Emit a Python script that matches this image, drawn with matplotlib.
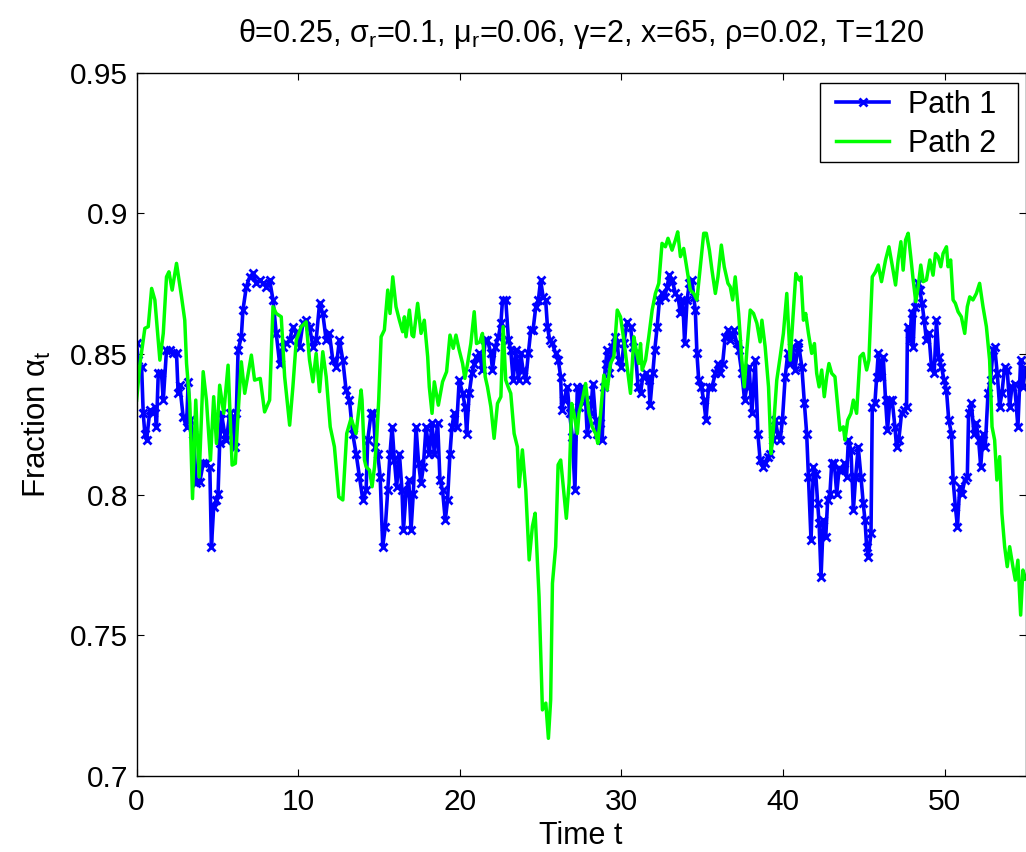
import matplotlib
matplotlib.use("Agg")
import matplotlib.pyplot as plt
from matplotlib.patches import Rectangle

plt.rcParams['font.family'] = ['Liberation Sans', 'DejaVu Sans']
plt.rcParams['mathtext.fontset'] = 'custom'
plt.rcParams['mathtext.rm'] = 'Liberation Sans'
plt.rcParams['mathtext.it'] = 'Liberation Sans:italic'

title_text = (r"θ=0.25, σ$_{\mathrm{r}}$=0.1, μ$_{\mathrm{r}}$=0.06, γ=2, "
              r"x=65, ρ=0.02, T=120")
xlabel_text = "Time t"
ylabel_text = r"Fraction α$_{\mathrm{t}}$"
legend_labels = ["Path 1", "Path 2"]
xticks = [0, 10, 20, 30, 40, 50]
yticks = [0.7, 0.75, 0.8, 0.85, 0.9, 0.95]
ytick_labels = ["0.7", "0.75", "0.8", "0.85", "0.9", "0.95"]

# Path 1 (blue, x markers)
t1 = [0.00, 0.10, 0.31, 0.41, 0.51, 0.62, 0.82, 1.03, 1.13, 1.23, 1.34, 1.54, 1.65, 1.85, 2.06,
      2.26, 2.47, 2.57, 2.67, 2.88, 3.09, 3.19, 3.29, 3.50, 3.70, 3.91, 4.12, 4.32, 4.53, 4.63,
      4.77, 4.94, 5.04, 5.14, 5.25, 5.45, 5.56, 5.76, 5.97, 6.07, 6.17, 6.28, 6.48, 6.58, 6.79,
      7.00, 7.20, 7.41, 7.61, 7.82, 8.02, 8.23, 8.44, 8.64, 8.85, 9.05, 9.26, 9.47, 9.67, 9.88,
      10.08, 10.29, 10.49, 10.70, 10.91, 11.11, 11.32, 11.52, 11.73, 11.93, 12.14, 12.35, 12.55,
      12.76, 12.96, 13.17, 13.37, 13.58,
      13.79, 14.00, 14.20, 14.30, 14.51, 14.65, 14.78, 14.92, 15.07, 15.23, 15.39, 15.54, 15.68,
      15.81, 15.95, 16.09, 16.26, 16.42, 16.51, 16.67, 16.84, 16.98, 17.12, 17.29, 17.45, 17.60,
      17.74, 17.91, 18.11, 18.28, 18.42, 18.63, 18.77, 18.93, 19.10, 19.24, 19.39, 19.51, 19.65,
      19.80, 19.96, 20.17, 20.33, 20.42, 20.58, 20.75, 20.89, 21.03, 21.20, 21.40, 21.57, 21.71,
      21.92, 22.02, 22.19, 22.39, 22.54, 22.64, 22.84, 23.01, 23.15, 23.30, 23.46, 23.63, 23.77,
      23.91, 24.08, 24.24, 24.39, 24.53, 24.70, 24.86, 25.00, 25.15, 25.31, 25.42, 25.56, 25.72,
      25.93, 26.09, 26.24, 26.30, 26.44, 26.65, 26.79, 26.96, 27.12, 27.27,
      27.37, 27.58, 27.78, 27.88, 28.09, 28.23, 28.40, 28.50, 28.65, 28.81, 28.91, 29.02, 29.12,
      29.26, 29.43, 29.59, 29.74, 29.84, 30.00, 30.15, 30.35, 30.56, 30.70, 30.87, 31.03, 31.18,
      31.32, 31.49, 31.69, 31.77, 31.94, 32.06, 32.21, 32.35, 32.51, 32.68, 32.82, 32.97, 33.13,
      33.34, 33.50, 33.65, 33.79, 33.91, 34.06, 34.20, 34.37, 34.47, 34.57, 34.67, 34.78, 34.94,
      35.09, 35.23, 35.39, 35.60, 35.81, 35.97, 36.11, 36.26, 36.42, 36.59, 36.73, 36.94, 37.14,
      37.25, 37.45, 37.62, 37.76, 37.90, 38.07, 38.28, 38.44, 38.58, 38.73, 38.89, 39.06, 39.20,
      39.35, 39.51, 39.67, 39.82, 39.96, 40.13, 40.29, 40.44, 40.58, 40.74, 40.91,
      40.95, 41.16, 41.32, 41.46, 41.57, 41.73, 41.88, 42.02, 42.14, 42.23, 42.35, 42.49, 42.64,
      42.76, 42.90, 43.01, 43.17, 43.32, 43.46, 43.62, 43.79, 43.93, 44.04, 44.20, 44.35, 44.49,
      44.65, 44.82, 44.96, 45.07, 45.17, 45.27, 45.44, 45.52, 45.68, 45.79, 45.89, 46.05, 46.20,
      46.34, 46.46, 46.61, 46.75, 46.92, 47.02, 47.16, 47.33, 47.49, 47.64, 47.70, 47.84, 47.95,
      48.05, 48.15, 48.32, 48.46, 48.60, 48.73, 48.87, 49.02, 49.18, 49.35, 49.49, 49.63, 49.80,
      49.96, 50.11, 50.25, 50.42, 50.52, 50.66, 50.79, 50.93, 51.07, 51.24, 51.40, 51.48, 51.65,
      51.81, 51.96, 52.10, 52.23, 52.37, 52.51, 52.68, 52.84, 52.99, 53.09, 53.25, 53.40, 53.54,
      53.71, 53.87, 54.02, 54.16, 54.32, 54.53, 54.70, 54.84, 55.00]
alpha1 = [0.8538, 0.8478, 0.8455, 0.8289, 0.8217, 0.8194, 0.8300, 0.8289, 0.8312, 0.8241, 0.8431,
          0.8431, 0.8336, 0.8514, 0.8514, 0.8502, 0.8502, 0.8360, 0.8389, 0.8277, 0.8241, 0.8401,
          0.8265, 0.8217, 0.8040, 0.8046, 0.8111, 0.8111, 0.8099, 0.7815, 0.7957, 0.7981, 0.8004,
          0.8182, 0.8289, 0.8217, 0.8194, 0.8289, 0.8265, 0.8170, 0.8289, 0.8514, 0.8561, 0.8656,
          0.8739, 0.8774, 0.8786, 0.8751, 0.8763, 0.8751, 0.8739, 0.8763, 0.8692, 0.8573, 0.8466,
          0.8526, 0.8538, 0.8549, 0.8597, 0.8573, 0.8526, 0.8609, 0.8620, 0.8597, 0.8526, 0.8549,
          0.8680, 0.8644, 0.8549, 0.8573, 0.8478, 0.8455, 0.8549, 0.8478, 0.8372, 0.8336, 0.8217,
          0.8146,
          0.8064, 0.7981, 0.8016, 0.8194, 0.8289, 0.8289, 0.8170, 0.8146, 0.8064, 0.7815, 0.7886,
          0.8016, 0.8146, 0.8241, 0.8123, 0.8028, 0.8146, 0.8016, 0.7874, 0.8004, 0.8052, 0.7874,
          0.8004, 0.8241, 0.8111, 0.8040, 0.8099, 0.8241, 0.8146, 0.8253, 0.8146, 0.8253, 0.8052,
          0.8016, 0.7909, 0.7981, 0.8146, 0.8241, 0.8289, 0.8241, 0.8407, 0.8360, 0.8312, 0.8217,
          0.8360, 0.8431, 0.8466, 0.8490, 0.8502, 0.8443, 0.8549, 0.8549, 0.8502, 0.8443, 0.8526,
          0.8561, 0.8609, 0.8692, 0.8692, 0.8549, 0.8514, 0.8407, 0.8514, 0.8407, 0.8502, 0.8443,
          0.8407, 0.8502, 0.8585, 0.8585, 0.8668, 0.8692, 0.8763, 0.8703, 0.8692, 0.8597, 0.8549,
          0.8538, 0.8502, 0.8478, 0.8419, 0.8300, 0.8336, 0.8383, 0.8289, 0.8206, 0.8016, 0.8383,
          0.8312, 0.8383, 0.8336, 0.8217, 0.8289, 0.8395, 0.8265, 0.8217, 0.8253, 0.8194, 0.8383,
          0.8466, 0.8514, 0.8431, 0.8526, 0.8561, 0.8538, 0.8478, 0.8455, 0.8538, 0.8614, 0.8597,
          0.8526, 0.8502, 0.8383, 0.8360, 0.8419, 0.8431, 0.8407, 0.8318, 0.8431, 0.8514, 0.8597,
          0.8692, 0.8715, 0.8703, 0.8739, 0.8780, 0.8763, 0.8715, 0.8703, 0.8644, 0.8692, 0.8538,
          0.8692, 0.8751, 0.8763, 0.8703, 0.8656, 0.8502, 0.8407, 0.8383, 0.8336, 0.8265, 0.8383,
          0.8383, 0.8431, 0.8466, 0.8431, 0.8466, 0.8561, 0.8585, 0.8549, 0.8585, 0.8538, 0.8514,
          0.8431, 0.8336, 0.8383, 0.8455, 0.8289, 0.8478, 0.8217, 0.8123, 0.8099, 0.8111, 0.8135,
          0.8146, 0.8194, 0.8265, 0.8217, 0.8194, 0.8265, 0.8419, 0.8502, 0.8466, 0.8526, 0.8443,
          0.8526,
          0.8538, 0.8455, 0.8324, 0.8217, 0.8063, 0.7838, 0.8099, 0.8075, 0.7969, 0.7898, 0.7708,
          0.7909, 0.7850, 0.7981, 0.8004, 0.8111, 0.8111, 0.8004, 0.8087, 0.8087, 0.8111, 0.8063,
          0.8194, 0.8158, 0.7945, 0.8063, 0.8170, 0.8063, 0.7969, 0.7909, 0.7815, 0.7779, 0.7862,
          0.8312, 0.8324, 0.8419, 0.8502, 0.8419, 0.8490, 0.8336, 0.8229, 0.8336, 0.8336, 0.8241,
          0.8170, 0.8194, 0.8289, 0.8300, 0.8312, 0.8597, 0.8549, 0.8644, 0.8526, 0.8668, 0.8751,
          0.8727, 0.8680, 0.8620, 0.8549, 0.8573, 0.8455, 0.8431, 0.8620, 0.8490, 0.8455, 0.8407,
          0.8372, 0.8265, 0.8217, 0.8052, 0.7957, 0.7886, 0.8028, 0.8004, 0.8052, 0.8063, 0.8289,
          0.8324, 0.8217, 0.8253, 0.8194, 0.8099, 0.8217, 0.8170, 0.8360, 0.8407, 0.8514, 0.8526,
          0.8431, 0.8312, 0.8360, 0.8455, 0.8443, 0.8312, 0.8383, 0.8395, 0.8241, 0.8478, 0.8383,
          0.8450]

# Path 2 (green line)
t2 = [0.00, 0.21, 0.51, 0.72, 0.93, 1.13, 1.44, 1.65, 1.85, 2.00, 2.20, 2.47, 2.78, 2.98, 3.09,
      3.29, 3.46, 3.66, 3.87, 4.12, 4.32, 4.57, 4.77, 4.94, 5.14, 5.39, 5.66, 5.91, 6.11, 6.28,
      6.48, 6.69, 7.10, 7.30, 7.65, 7.92, 8.23, 8.44, 8.64, 8.95, 9.16, 9.47, 9.67, 9.88, 10.19,
      10.49, 10.70, 10.91, 11.11, 11.32, 11.52, 11.73, 11.98, 12.24, 12.51, 12.76, 13.00, 13.27,
      13.58, 13.89,
      13.95, 14.10, 14.20, 14.41, 14.57, 14.72, 14.86, 14.98, 15.13, 15.33, 15.54, 15.68, 15.85,
      16.05, 16.26, 16.46, 16.57, 16.67, 16.88, 17.04, 17.14, 17.39, 17.60, 17.80, 18.01, 18.11,
      18.28, 18.42, 18.67, 18.93, 19.18, 19.39, 19.59, 19.76, 19.96, 20.17, 20.31, 20.48, 20.68,
      20.89, 21.03, 21.24, 21.40, 21.57, 21.71, 21.92, 22.12, 22.33, 22.54, 22.68, 22.84, 22.99,
      23.15, 23.36, 23.56, 23.67,
      23.87, 24.08, 24.29, 24.49, 24.66, 24.90, 25.11, 25.32, 25.48, 25.62, 25.73, 25.93, 26.08,
      26.24, 26.59, 26.76, 26.92, 27.06, 27.27,
      27.37, 27.58, 27.78, 27.99, 28.19, 28.40, 28.54, 28.71, 28.91, 29.12, 29.32, 29.53, 29.74,
      29.94, 30.15, 30.35, 30.56, 30.77, 30.91, 31.07, 31.18, 31.28, 31.49, 31.69, 31.90, 32.10,
      32.31, 32.51, 32.72, 32.88, 33.13, 33.34, 33.48, 33.65, 33.85, 34.06, 34.26, 34.47, 34.67,
      34.88, 35.09, 35.25, 35.44, 35.60, 35.81, 35.97, 36.18, 36.36, 36.59, 36.73, 36.88, 37.04,
      37.25, 37.45, 37.60, 37.76, 37.97, 38.17, 38.38, 38.58, 38.69, 38.89, 39.10, 39.26, 39.41,
      39.61, 39.82, 40.02, 40.23, 40.44, 40.64, 40.79, 40.99,
      41.11, 41.26, 41.40, 41.57, 41.77, 41.94, 42.08, 42.23, 42.39, 42.55, 42.70, 42.84, 43.01,
      43.21, 43.42, 43.52, 43.73, 43.83, 44.00, 44.20, 44.35, 44.55, 44.65, 44.76, 44.96, 45.17,
      45.31, 45.52, 45.72, 45.89, 46.09, 46.34, 46.55, 46.75, 46.96, 47.12, 47.29, 47.43, 47.58,
      47.74, 47.90, 48.05, 48.21, 48.36, 48.52, 48.67, 48.87, 49.08, 49.28, 49.43, 49.59, 49.76,
      49.90, 50.11, 50.21, 50.37, 50.52, 50.66, 50.83, 51.03, 51.24, 51.40, 51.55, 51.75, 51.96,
      52.16, 52.37, 52.58, 52.78, 52.93, 53.09, 53.23, 53.40, 53.54, 53.71, 53.87, 54.02, 54.22,
      54.37, 54.53, 54.70, 54.84, 55.00]
alpha2 = [0.8336, 0.8466, 0.8591, 0.8597, 0.8733, 0.8692, 0.8478, 0.8573, 0.8774, 0.8792, 0.8727,
          0.8822, 0.8703, 0.8620, 0.8466, 0.8324, 0.7986, 0.8336, 0.8063, 0.8437, 0.8336, 0.8123,
          0.8348, 0.8182, 0.8389, 0.8289, 0.8460, 0.8105, 0.8111, 0.8289, 0.8472, 0.8360, 0.8496,
          0.8407, 0.8413, 0.8294, 0.8336, 0.8668, 0.8644, 0.8632, 0.8419, 0.8247, 0.8383, 0.8549,
          0.8597, 0.8614, 0.8478, 0.8401, 0.8502, 0.8366, 0.8508, 0.8419, 0.8241, 0.8170, 0.7992,
          0.7981, 0.8217, 0.8271, 0.8217, 0.8372,
          0.8336, 0.8123, 0.8099, 0.8087, 0.8028, 0.8099, 0.8206, 0.8336, 0.8561, 0.8585, 0.8727,
          0.8644, 0.8774, 0.8668, 0.8620, 0.8579, 0.8632, 0.8561, 0.8656, 0.8567, 0.8561, 0.8680,
          0.8573, 0.8620, 0.8490, 0.8383, 0.8289, 0.8401, 0.8318, 0.8401, 0.8437, 0.8567, 0.8520,
          0.8567, 0.8514, 0.8466, 0.8413, 0.8466, 0.8537, 0.8650, 0.8537, 0.8543, 0.8573, 0.8419,
          0.8383, 0.8312, 0.8200, 0.8324, 0.8348, 0.8597, 0.8407, 0.8383, 0.8360, 0.8217, 0.8170,
          0.8028,
          0.8159, 0.8017, 0.7768, 0.7887, 0.7934, 0.7638, 0.7235, 0.7259, 0.7134, 0.7271, 0.7685,
          0.7815, 0.8106, 0.8123, 0.7916, 0.8041, 0.8324, 0.8289, 0.8217,
          0.8289, 0.8336, 0.8395, 0.8289, 0.8241, 0.8217, 0.8182, 0.8289, 0.8425, 0.8372, 0.8466,
          0.8490, 0.8656, 0.8632, 0.8549, 0.8455, 0.8360, 0.8561, 0.8514, 0.8466, 0.8537, 0.8443,
          0.8478, 0.8561, 0.8656, 0.8715, 0.8751, 0.8893, 0.8881, 0.8911, 0.8869, 0.8905, 0.8934,
          0.8846, 0.8875, 0.8798, 0.8727, 0.8715, 0.8692, 0.8810, 0.8929, 0.8929, 0.8869, 0.8798,
          0.8715, 0.8774, 0.8887, 0.8810, 0.8751, 0.8739, 0.8692, 0.8774, 0.8644, 0.8478, 0.8383,
          0.8514, 0.8656, 0.8644, 0.8609, 0.8543, 0.8620, 0.8526, 0.8383, 0.8146, 0.8241, 0.8407,
          0.8490, 0.8573, 0.8715, 0.8478, 0.8656, 0.8786, 0.8763,
          0.8774, 0.8620, 0.8644, 0.8573, 0.8502, 0.8537, 0.8431, 0.8383, 0.8443, 0.8348, 0.8419,
          0.8466, 0.8431, 0.8419, 0.8289, 0.8229, 0.8241, 0.8194, 0.8265, 0.8289, 0.8336, 0.8289,
          0.8383, 0.8490, 0.8502, 0.8443, 0.8478, 0.8774, 0.8792, 0.8816, 0.8757, 0.8834, 0.8881,
          0.8816, 0.8745, 0.8834, 0.8899, 0.8798, 0.8905, 0.8929, 0.8846, 0.8763, 0.8686, 0.8739,
          0.8816, 0.8757, 0.8763, 0.8834, 0.8780, 0.8857, 0.8846, 0.8810, 0.8857, 0.8881, 0.8810,
          0.8834, 0.8692, 0.8680, 0.8650, 0.8632, 0.8573, 0.8668, 0.8703, 0.8692, 0.8715, 0.8751,
          0.8668, 0.8597, 0.8478, 0.8241, 0.8194, 0.8052, 0.8135, 0.7933, 0.7815, 0.7744, 0.7815,
          0.7744, 0.7696, 0.7767, 0.7572, 0.7732, 0.7700]

W, H = 1026, 852
fig = plt.figure(figsize=(W / 100, H / 100), dpi=100)
left, right, top, bottom = 136.6, 1025.5, 72.6, 776.0
ax = fig.add_axes([left / W, 1 - bottom / H, (right - left) / W, (bottom - top) / H])

ax.plot(t1, alpha1, color=(0, 0, 1), lw=2.6, marker='x', ms=6, mew=2.0, label=legend_labels[0])
ax.plot(t2, alpha2, color=(0, 1, 0), lw=2.5, label=legend_labels[1])

ax.set_xlim(0, 55)
ax.set_ylim(0.7, 0.95)
ax.set_xticks(xticks)
ax.set_yticks(yticks)
ax.set_yticklabels(ytick_labels)
ax.tick_params(direction='in', top=True, right=True, length=5, width=0.8,
               labelsize=21.5, pad=6)
ax.tick_params(axis='x', pad=9)
for s in ax.spines.values():
    s.set_linewidth(1.0)

ax.set_title(title_text, fontsize=22, pad=22)
ax.set_xlabel(xlabel_text, fontsize=22, labelpad=3)
ax.set_ylabel(ylabel_text, fontsize=22.5, labelpad=12)

# legend box (MATLAB-style, square frame)
box = Rectangle((820 / W, 1 - 161.7 / H), 198 / W, 79 / H, transform=fig.transFigure,
                facecolor='white', edgecolor='black', linewidth=1.0, zorder=4)
ax.add_patch(box)
box.set_clip_on(False)
leg = ax.legend(loc='upper left', bbox_to_anchor=(836 / W, 1 - 90 / H),
                bbox_transform=fig.transFigure, fontsize=22, numpoints=1,
                frameon=False, handlelength=1.75, handletextpad=0.62,
                labelspacing=0.28, borderpad=0, borderaxespad=0)
leg.set_zorder(5)

fig.savefig("out.png", dpi=100)
